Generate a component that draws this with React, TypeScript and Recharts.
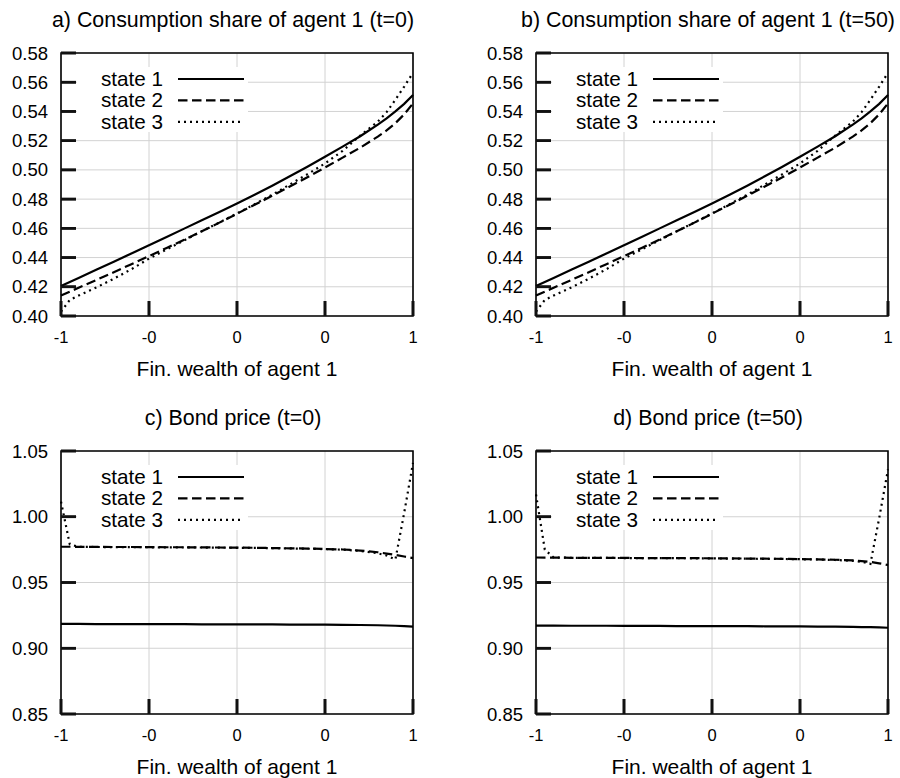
import { LineChart, Line, XAxis, YAxis, CartesianGrid, ReferenceArea, ReferenceLine, Legend } from 'recharts';

const X_GRID = [-1, -0.95, -0.9, -0.8, -0.7, -0.6, -0.5, -0.4, -0.3, -0.2, -0.1, 0, 0.1, 0.2, 0.3, 0.4, 0.5, 0.6, 0.7, 0.8, 0.85, 0.9, 0.95, 1];
const X_TICKS = [-1, -0.5, 0, 0.5, 1];
const X_TICK_LABELS = ['-1', '-0', '0', '0', '1'];

const SHARE_TICKS = [0.4, 0.42, 0.44, 0.46, 0.48, 0.5, 0.52, 0.54, 0.56, 0.58];
const BOND_TICKS = [0.85, 0.9, 0.95, 1.0, 1.05];

// consumption share, t=0 and t=50 look the same in the figure
const share1 = [0.4205, 0.4233, 0.426, 0.4316, 0.4372, 0.4428, 0.4485, 0.4541, 0.4598, 0.4655, 0.4712, 0.477, 0.483, 0.4892, 0.4956, 0.5022, 0.509, 0.5159, 0.523, 0.531, 0.5352, 0.54, 0.5452, 0.5513];
const share2 = [0.414, 0.4167, 0.4193, 0.4246, 0.43, 0.4355, 0.441, 0.4466, 0.4522, 0.458, 0.4639, 0.47, 0.4761, 0.4823, 0.4886, 0.495, 0.5016, 0.5084, 0.5152, 0.5228, 0.527, 0.532, 0.538, 0.5455];
const share3 = [0.403, 0.411, 0.414, 0.4195, 0.4255, 0.432, 0.4393, 0.4455, 0.4518, 0.458, 0.464, 0.4702, 0.4765, 0.483, 0.49, 0.497, 0.5044, 0.513, 0.5235, 0.533, 0.5395, 0.548, 0.557, 0.5665];

const bondT0s1 = [0.9185, 0.9185, 0.9185, 0.9184, 0.9184, 0.9184, 0.9183, 0.9183, 0.9183, 0.9182, 0.9182, 0.9182, 0.9181, 0.9181, 0.918, 0.918, 0.9179, 0.9178, 0.9177, 0.9175, 0.9173, 0.9171, 0.9168, 0.9165];
const bondT0s2 = [0.9772, 0.9772, 0.9771, 0.9771, 0.977, 0.977, 0.9769, 0.9768, 0.9768, 0.9767, 0.9766, 0.9765, 0.9764, 0.9762, 0.976, 0.9758, 0.9755, 0.9751, 0.9743, 0.973, 0.972, 0.971, 0.9698, 0.9685];
const bondT0s3 = [1.0115, 0.979, 0.9771, 0.977, 0.9769, 0.9769, 0.9768, 0.9767, 0.9767, 0.9766, 0.9765, 0.9764, 0.9763, 0.9761, 0.9759, 0.9757, 0.9754, 0.975, 0.974, 0.9722, 0.9705, 0.9675, 1.003, 1.041];

const bondT50s1 = [0.9172, 0.9172, 0.9172, 0.9171, 0.9171, 0.9171, 0.917, 0.917, 0.917, 0.9169, 0.9169, 0.9169, 0.9168, 0.9168, 0.9167, 0.9167, 0.9166, 0.9165, 0.9164, 0.9162, 0.9161, 0.916, 0.9158, 0.9156];
const bondT50s2 = [0.969, 0.9689, 0.9689, 0.9688, 0.9688, 0.9687, 0.9687, 0.9686, 0.9686, 0.9685, 0.9685, 0.9684, 0.9683, 0.9682, 0.9681, 0.968, 0.9678, 0.9676, 0.9673, 0.9668, 0.9663, 0.9656, 0.9646, 0.9633];
const bondT50s3 = [1.017, 0.975, 0.969, 0.9688, 0.9687, 0.9687, 0.9686, 0.9686, 0.9685, 0.9685, 0.9684, 0.9683, 0.9682, 0.9681, 0.968, 0.9679, 0.9677, 0.9675, 0.9671, 0.9665, 0.9658, 0.9642, 0.999, 1.036];

const SERIES = [
  { key: 's1', name: 'state 1', dash: undefined },
  { key: 's2', name: 'state 2', dash: '9.5 4.5' },
  { key: 's3', name: 'state 3', dash: '2 4' },
];

const FONT = '"Liberation Sans", Arial, Helvetica, sans-serif';

const W = 425;
const H = 380;
const PLOT_LEFT = 61;
const PLOT_TOP = 53;
const PLOT_W = 352;
const PLOT_H = 263;
const TICK_LEN = 15; // gnuplot style inward ticks, px
const TICK_W = 2.6;

function makeRows(s1: number[], s2: number[], s3: number[]) {
  return X_GRID.map((x, i) => ({ x, s1: s1[i], s2: s2[i], s3: s3[i] }));
}

const XTick = (props: any) => {
  const { x, y, payload } = props;
  const idx = X_TICKS.indexOf(payload.value);
  return (
    <g>
      <line x1={x} x2={x} y1={y} y2={y - TICK_LEN} stroke="#111" strokeWidth={TICK_W} />
      <text x={x} y={y + 26.5} textAnchor="middle" fontSize={16.5} fontFamily={FONT} fill="#000">
        {X_TICK_LABELS[idx] ?? ''}
      </text>
    </g>
  );
};

const YTick = (props: any) => {
  const { x, y, payload } = props;
  return (
    <g>
      <line x1={x} x2={x + TICK_LEN} y1={y} y2={y} stroke="#111" strokeWidth={TICK_W} />
      <text x={x - 13} y={y + 6.5} textAnchor="end" fontSize={18.5} fontFamily={FONT} fill="#000">
        {Number(payload.value).toFixed(2)}
      </text>
    </g>
  );
};

const LegendBox = () => (
  <svg width={171} height={65} style={{ display: 'block', background: '#fff' }}>
    {SERIES.map((s, i) => (
      <g key={s.key}>
        <text x={86} y={19 + i * 21.4} textAnchor="end" fontSize={20.7} fontFamily={FONT} fill="#000">
          {s.name}
        </text>
        <line x1={101} x2={167} y1={12 + i * 21.4} y2={12 + i * 21.4} stroke="#000" strokeWidth={2.2} strokeDasharray={s.dash} />
      </g>
    ))}
  </svg>
);

interface PanelProps {
  title: string;
  left: number;
  top: number;
  rows: any[];
  yTicks: number[];
}

function Panel({ title, left, top, rows, yTicks }: PanelProps) {
  const lo = yTicks[0];
  const hi = yTicks[yTicks.length - 1];
  const xTickLen = (TICK_LEN / PLOT_H) * (hi - lo);
  const yTickLen = (TICK_LEN / PLOT_W) * 2;
  return (
    <div style={{ position: 'absolute', left, top, width: W, height: H }}>
      <div
        style={{
          position: 'absolute',
          left: PLOT_LEFT - 34,
          width: PLOT_W + 60,
          top: 10,
          textAlign: 'center',
          fontSize: 21.4,
          lineHeight: '21px',
          fontFamily: FONT,
          whiteSpace: 'nowrap',
          color: '#000',
        }}
      >
        {title}
      </div>
      <LineChart width={W} height={H} data={rows} margin={{ top: PLOT_TOP, right: W - PLOT_LEFT - PLOT_W, bottom: 0, left: 0 }}>
        <CartesianGrid stroke="#d2d2d2" strokeWidth={1} />
        <XAxis
          type="number"
          dataKey="x"
          domain={[-1, 1]}
          ticks={X_TICKS}
          interval={0}
          height={H - PLOT_TOP - PLOT_H}
          tickSize={0}
          tickMargin={0}
          tickLine={false}
          axisLine={false}
          tick={XTick}
          label={{ value: 'Fin. wealth of agent 1', position: 'insideBottom', offset: 4, fontSize: 21, fill: '#000', fontFamily: FONT }}
        />
        <YAxis
          type="number"
          domain={[lo, hi]}
          ticks={yTicks}
          interval={0}
          width={PLOT_LEFT}
          tickSize={0}
          tickMargin={0}
          tickLine={false}
          axisLine={false}
          tick={YTick}
        />
        {X_TICKS.map((t) => (
          <ReferenceLine
            key={`xt${t}`}
            segment={[{ x: t, y: lo }, { x: t, y: lo + xTickLen }]}
            stroke="#111"
            strokeWidth={TICK_W}
            ifOverflow="visible"
          />
        ))}
        {yTicks.map((t) => (
          <ReferenceLine
            key={`yt${t}`}
            segment={[{ x: -1, y: t }, { x: -1 + yTickLen, y: t }]}
            stroke="#111"
            strokeWidth={TICK_W}
            ifOverflow="visible"
          />
        ))}
        {SERIES.map((s) => (
          <Line
            key={s.key}
            type="linear"
            dataKey={s.key}
            name={s.name}
            stroke="#000"
            strokeWidth={2.2}
            strokeDasharray={s.dash}
            dot={false}
            isAnimationActive={false}
          />
        ))}
        <ReferenceArea x1={-1} x2={1} y1={lo} y2={hi} fill="none" fillOpacity={0} stroke="#000" strokeWidth={1.6} />
        <Legend
          layout="vertical"
          align="center"
          verticalAlign="middle"
          content={() => <LegendBox />}
          wrapperStyle={{ left: 77, top: 67, width: 171, height: 65 }}
        />
      </LineChart>
    </div>
  );
}

export default function App() {
  return (
    <div style={{ position: 'absolute', left: 0, top: 0, width: 900, height: 778, background: '#fff', overflow: 'hidden' }}>
      <Panel title="a) Consumption share of agent 1 (t=0)" left={0} top={0} rows={makeRows(share1, share2, share3)} yTicks={SHARE_TICKS} />
      <Panel title="b) Consumption share of agent 1 (t=50)" left={475} top={0} rows={makeRows(share1, share2, share3)} yTicks={SHARE_TICKS} />
      <Panel title="c) Bond price (t=0)" left={0} top={398} rows={makeRows(bondT0s1, bondT0s2, bondT0s3)} yTicks={BOND_TICKS} />
      <Panel title="d) Bond price (t=50)" left={475} top={398} rows={makeRows(bondT50s1, bondT50s2, bondT50s3)} yTicks={BOND_TICKS} />
    </div>
  );
}
